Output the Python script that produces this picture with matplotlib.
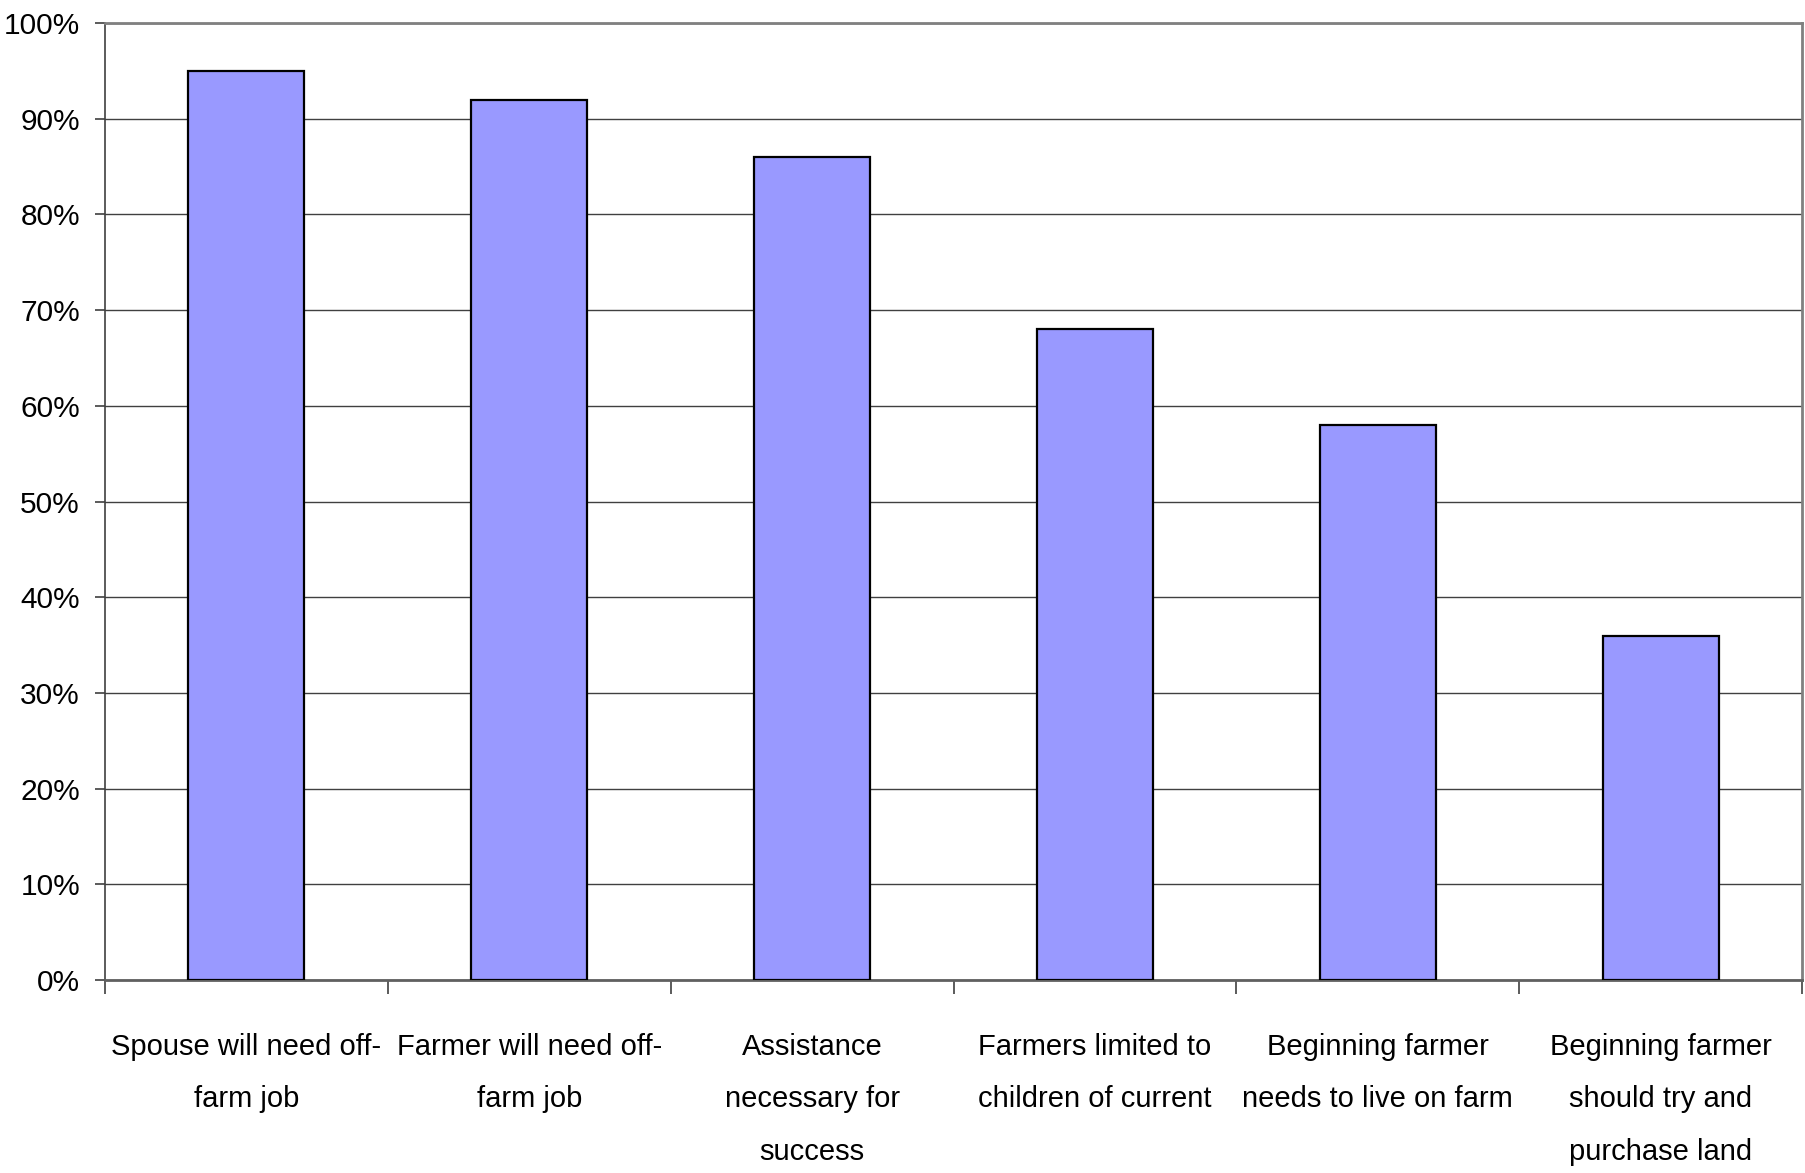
import matplotlib
matplotlib.use('Agg')
import matplotlib.pyplot as plt
import numpy as np

plt.rcParams['font.family'] = ['Liberation Sans', 'DejaVu Sans']

categories = ['Spouse will need off-\nfarm job',
              'Farmer will need off-\nfarm job',
              'Assistance\nnecessary for\nsuccess',
              'Farmers limited to\nchildren of current',
              'Beginning farmer\nneeds to live on farm',
              'Beginning farmer\nshould try and\npurchase land']
values = [95, 92, 86, 68, 58, 36]
yticks = [0, 10, 20, 30, 40, 50, 60, 70, 80, 90, 100]

fig = plt.figure(figsize=(18.05, 11.73), dpi=100)
ax = fig.add_axes([0.0582, 0.1645, 0.9402, 0.8159])

x = np.arange(len(categories))
ax.bar(x, values, width=0.41, color='#9999ff', edgecolor='black', linewidth=1.6, zorder=3)

ax.set_xlim(-0.5, len(categories) - 0.5)
ax.set_ylim(0, 100)
ax.set_yticks(yticks)
ax.set_yticklabels(['%d%%' % t for t in yticks], fontsize=21.5)
ax.yaxis.grid(True, color='#404040', linewidth=1.0, zorder=0)

# category boundaries get the tick marks, labels sit in the middle
ax.set_xticks(np.arange(len(categories) + 1) - 0.5)
ax.set_xticklabels([])
ax.set_xticks(x, minor=True)
ax.set_xticklabels(categories, minor=True, fontsize=21, linespacing=2.12, va='top')
ax.tick_params(axis='x', which='minor', length=0, pad=38)
ax.tick_params(axis='x', which='major', direction='out', length=10, width=1.2, color='#404040')
ax.tick_params(axis='y', direction='out', length=7, width=1.2, color='#404040', pad=11)

for s in ['top', 'right']:
    ax.spines[s].set_color('#808080')
    ax.spines[s].set_linewidth(2)
ax.spines['left'].set_color('#404040')
ax.spines['left'].set_linewidth(1.2)
ax.spines['bottom'].set_color('#606060')
ax.spines['bottom'].set_linewidth(2)

fig.savefig('out.png', dpi=100)
